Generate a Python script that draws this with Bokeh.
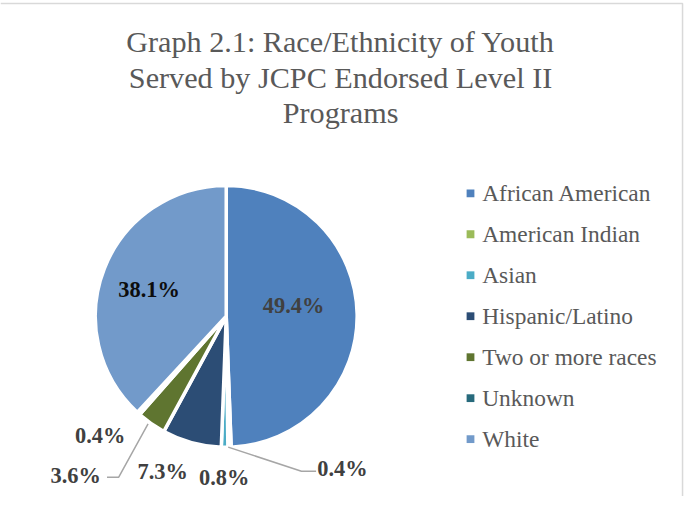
from bokeh.plotting import figure
from bokeh.models import Range1d, ColumnDataSource
from bokeh.embed import file_html
from bokeh.resources import INLINE
from bokeh.core.properties import value
import numpy as np

# ---- data ----
categories = ["African American", "American Indian", "Asian", "Hispanic/Latino",
              "Two or more races", "Unknown", "White"]
percentages = [49.4, 0.4, 0.8, 7.3, 3.6, 0.4, 38.1]
title_lines = ["Graph 2.1: Race/Ethnicity of Youth",
               "Served by JCPC Endorsed Level II",
               "Programs"]

# ---- styles / layout (reference pixel coordinates, y from top) ----
colors = ["#4F81BD", "#9BBB59", "#4BACC6", "#2C4D75", "#5F7530", "#276A7C", "#729ACA"]
label_colors = ["#404040", "#404040", "#404040", "#404040", "#404040", "#404040", "#0D0D0D"]
label_pos = [(300, 315), (350, 483), (229, 492), (166, 486), (77, 490), (102, 449), (152, 298)]
leaders = {1: ([233, 308, 323], [461, 486, 486]),
           4: ([151, 121, 109], [437, 492, 492])}
FONT = "Liberation Serif"
W, H = 684, 496
REF_W, REF_H = 700, 512
S = (W / REF_W + H / REF_H) / 2  # font scale


def fy(y):
    return REF_H - y


def px(v):
    return f"{v * S:.1f}px"


p = figure(width=W, height=H, x_range=Range1d(0, REF_W), y_range=Range1d(0, REF_H),
           output_backend="svg", toolbar_location=None, min_border=0,
           x_axis_location=None, y_axis_location=None)
p.grid.visible = False
p.outline_line_color = None
p.background_fill_color = "white"
p.border_fill_color = "white"

# chart-area border (top and right edges visible in reference)
p.line([0, 698, 698], [fy(3), fy(3), fy(512)], line_color="#D9D9D9", line_width=1.5)

# ---- pie ----
cx, cy, r = 231, fy(326), 134
vals = np.array(percentages, dtype=float)
frac = vals / vals.sum()
cum = np.concatenate([[0], np.cumsum(frac)])
start = np.pi / 2 - cum[:-1] * 2 * np.pi
end = np.pi / 2 - cum[1:] * 2 * np.pi
src = ColumnDataSource(dict(start=start, end=end, color=colors, cat=categories))
p.wedge(x=cx, y=cy, radius=r, radius_units="data", start_angle="start", end_angle="end",
        direction="clock", fill_color="color", line_color="white", line_width=3.5, source=src)

# ---- leader lines ----
for i, (xs, ys) in leaders.items():
    p.line(xs, [fy(v) for v in ys], line_color="#A6A6A6", line_width=1.5)

# ---- data labels ----
labels = [f"{v:.1f}%" for v in percentages]
p.text(x=[a for a, b in label_pos], y=[fy(b) for a, b in label_pos], text=labels,
       text_font=value(FONT), text_font_size=px(23), text_font_style="bold",
       text_color=label_colors, text_align="center", text_baseline="middle")

# ---- title ----
title_y = [43, 80, 116]
p.text(x=[348] * 3, y=[fy(v) for v in title_y], text=title_lines,
       text_font=value(FONT), text_font_size=px(31), text_color="#595959",
       text_align="center", text_baseline="middle")

# ---- legend ----
ly = [199 + i * 42.3 for i in range(len(categories))]
p.scatter(x=[481] * len(categories), y=[fy(v) for v in ly], marker="square", size=8 * S,
          fill_color=colors, line_color=None)
p.text(x=[493] * len(categories), y=[fy(v) + 0.5 for v in ly], text=categories,
       text_font=value(FONT), text_font_size=px(24), text_color="#595959",
       text_align="left", text_baseline="middle")

open("out.html", "w").write(file_html(p, INLINE))
